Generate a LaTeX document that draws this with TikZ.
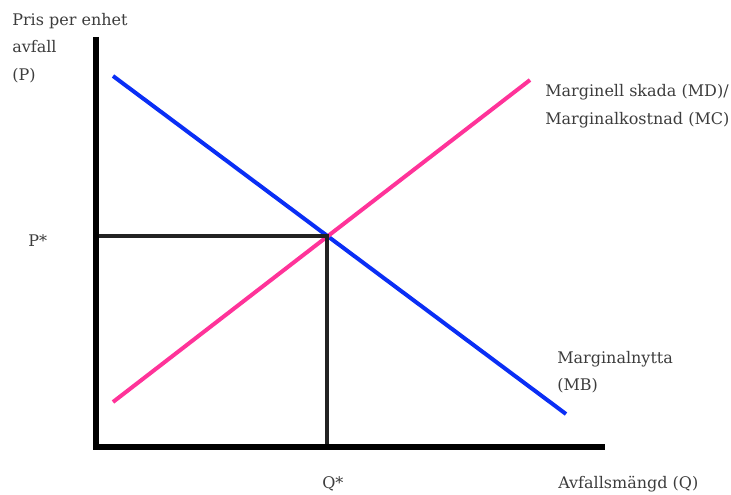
\documentclass[tikz,border=0pt]{standalone}
\usepackage{fontspec}
\setmainfont{DejaVu Serif}
\usepackage{tikz}
\usetikzlibrary{positioning}
\definecolor{mbblue}{HTML}{0A2EF5}
\definecolor{mdpink}{HTML}{FF3399}
\definecolor{labgray}{HTML}{3C3C3C}
\definecolor{guide}{HTML}{222222}
\tikzset{
  axis/.style={line width=4.5pt,line join=miter},
  curvemb/.style={mbblue,line width=3pt},
  curvemd/.style={mdpink,line width=3pt},
  guideline/.style={guide,line width=3pt},
  lab/.style={text=labgray,font=\fontsize{12}{20.5}\selectfont,inner sep=0pt,align=left},
}
\begin{document}
\begin{tikzpicture}[x=0.75pt,y=-0.75pt]
    \useasboundingbox (0,0) rectangle (731,495);
    \coordinate (o) at (96,447);
    \coordinate (ytop) at (96,37);
    \coordinate (xend) at (605,447);
    \coordinate (mb0) at (113,76);
    \coordinate (mb1) at (566,414);
    \coordinate (md0) at (113,402);
    \coordinate (md1) at (530,80);
    \coordinate (eq) at (327,236);
    \coordinate (pstar) at (96,236);
    \coordinate (qstar) at (327,447);
    \draw[curvemb] (mb0) -- (mb1);
    \draw[curvemd] (md0) -- (md1);
    \draw[guideline] (pstar) -- (eq) -- (qstar);
    \draw[axis] (ytop) -- (o) -- (xend);
    \node[lab,anchor=north west] (ylab) at (12,13) {Pris per enhet\\avfall\\(P)};
    \node[lab,anchor=north west] (mdlab) at (545,84.5) {Marginell skada (MD)/\\Marginalkostnad (MC)};
    \node[lab,anchor=north west] (mblab) at (557,351) {Marginalnytta\\(MB)};
    \node[lab,anchor=base west] (pslab) at (28,247) {P*};
    \node[lab,anchor=base west] (qslab) at (322,488) {Q*};
    \node[lab,anchor=base west] (xlab) at (558,488) {Avfallsmängd (Q)};
  \end{tikzpicture}
\end{document}
